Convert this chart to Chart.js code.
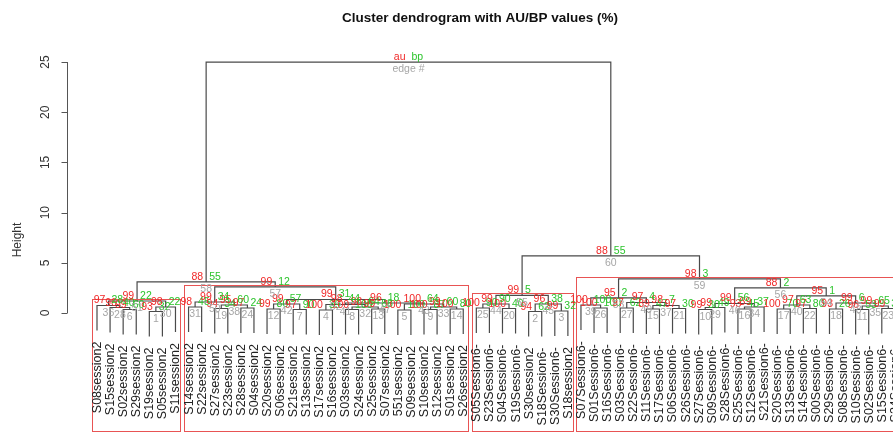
<!DOCTYPE html>
<html>
<head>
<meta charset="utf-8">
<script src="https://cdn.jsdelivr.net/npm/chart.js@4.4.1/dist/chart.umd.min.js"></script>
<style>
  html, body { margin: 0; padding: 0; background: #fff; }
  #wrap { width: 893px; height: 433px; }
</style>
</head>
<body>
<div id="wrap"><canvas id="dendro"></canvas></div>
<script>
// leaves, left to right as they appear
const leafLabels = [
  "S08session2", "S15session2", "S02session2", "S29session2", "S19session2", "S05session2", "S11session2",
  "S14session2", "S22session2", "S27session2", "S23session2", "S28session2", "S04session2", "S20session2",
  "S06session2", "S21session2", "S13session2", "S17session2", "S16session2", "S03session2", "S24session2",
  "S25session2", "S07session2", "551session2", "S09session2", "S10session2", "S12session2", "S01session2",
  "S26session2",
  "S05Session6-", "S23Session6-", "S04Session6-", "S19Session6-", "S30session2", "S18Session6-",
  "S30Session6-", "S18session2",
  "S07Session6-", "S01Session6-", "S16Session6-", "S03Session6-", "S22Session6-", "S11Session6-",
  "S17Session6-", "S06Session6-", "S26Session6-", "S27Session6-", "S09Session6-", "S28Session6-",
  "S25Session6-", "S12Session6-", "S21Session6-", "S20Session6-", "S13Session6-", "S14Session6-",
  "S00Session6-", "S29Session6-", "S08Session6-", "S10Session6-", "S02Session6-", "S15Session6-",
  "S24Session6-"
];

// merges, hclust style: negative = leaf number, positive = earlier merge (1-based)
const mergeLeft  = [-3, -2, -1, -5, 4, 3, -8, -10, -12, 8, 7, -14, -16, 12, -18, -20, -22, 16, 15, -24,
                    -26, -28, 21, 20, 19, 14, 11, 6, -30, -32, 29, -34, -36, 32, 31, -39, -38, -41, -43, -45,
                    39, 38, 37, -47, 44, -50, 46, 45, -53, -55, 49, -57, -59, -61, 53, 52, 51, 48, 43, 35, 28];
const mergeRight = [-4, 1, 2, -6, -7, 5, -9, -11, -13, 9, 10, -15, -17, 13, -19, -21, -23, 17, 18, -25,
                    -27, -29, 22, 23, 24, 25, 26, 27, -31, -33, 30, -35, -37, 33, 34, -40, 36, -42, -44, -46,
                    40, 41, 42, -48, -49, -51, -52, 47, -54, -56, 50, -58, -60, -62, 54, 55, 56, 57, 58, 59, 60];
const mergeHeight = [0.35, 0.55, 0.75, 0.15, 0.6, 1.2, 0.6, 0.45, 0.5, 0.8, 1.1, 0.4, 0.35, 0.9, 0.3, 0.35,
                     0.4, 0.6, 0.85, 0.3, 0.35, 0.4, 0.6, 0.9, 1.0, 1.35, 2.6, 3.1, 0.5, 0.45, 0.9, 0.15,
                     0.2, 0.9, 1.75, 0.5, 0.8, 0.5, 0.4, 0.45, 0.75, 1.05, 1.5, 0.35, 0.55, 0.4, 0.6, 0.95,
                     0.4, 0.45, 0.8, 0.4, 0.35, 0.45, 0.7, 1.0, 1.7, 2.5, 3.4, 5.7, 25.0];
const auValues = [99, 96, 97, 93, 98, 99, 98, 94, 97, 95, 99, 99, 97, 99, 100, 100, 99, 98, 98, 100,
                  100, 100, 99, 100, 96, 99, 99, 88, 100, 100, 99, 94, 99, 96, 99, 100, 100, 97, 89, 97,
                  98, 97, 95, 99, 99, 93, 89, 99, 100, 97, 97, 93, 96, 99, 99, 99, 95, 88, 98, 88, 100];
const bpValues = [60, 40, 28, 32, 22, 22, 45, 34, 24, 60, 34, 80, 90, 57, 39, 100, 88, 64, 44, 100,
                  87, 80, 60, 64, 18, 31, 12, 55, 90, 40, 90, 62, 32, 38, 5, 100, 100, 62, 47, 30,
                  7, 4, 2, 30, 49, 45, 37, 56, 70, 80, 63, 26, 53, 35, 65, 6, 1, 2, 3, 55, 100];

const yTicks = [0, 5, 10, 15, 20, 25];

const hang = 2.5;        // leaves hang 0.1 * top height below their merge
const auLimit = 95;      // pvrect alpha
const xMin = -6.416, xMax = 61.856;
const yMin = -11.95, yMax = 31.18;

// node positions as plot.hclust does it
const nodeX = [];
const leafBottom = [];
const members = [];
for (let i = 0; i < mergeHeight.length; i++) {
  const h = mergeHeight[i];
  const side = c => {
    if (c < 0) {
      leafBottom[-c - 1] = h - hang;
      return { x: -c, y: h - hang, m: [-c] };
    }
    return { x: nodeX[c - 1], y: mergeHeight[c - 1], m: members[c - 1] };
  };
  const l = side(mergeLeft[i]);
  const r = side(mergeRight[i]);
  nodeX[i] = (l.x + r.x) / 2;
  members[i] = l.m.concat(r.m);
}

// edge numbers follow merge height
const order = mergeHeight.map((h, i) => i).sort((a, b) => mergeHeight[a] - mergeHeight[b]);
const edgeNo = [];
order.forEach((idx, k) => { edgeNo[idx] = k + 1; });

// pvrect, max.only
const boxes = [];
const taken = new Set();
for (let k = order.length - 2; k >= 0; k--) {
  const i = order[k];
  if (auValues[i] < auLimit) continue;
  const m = members[i];
  if (m.some(v => taken.has(v))) { m.forEach(v => taken.add(v)); continue; }
  boxes.push({ from: Math.min(...m), to: Math.max(...m), top: mergeHeight[i] });
  m.forEach(v => taken.add(v));
}

const datasets = mergeHeight.map((h, i) => {
  const pt = c => c < 0 ? { x: -c, y: leafBottom[-c - 1] } : { x: nodeX[c - 1], y: mergeHeight[c - 1] };
  const l = pt(mergeLeft[i]);
  const r = pt(mergeRight[i]);
  return {
    data: [l, { x: l.x, y: h }, { x: r.x, y: h }, r],
    showLine: true,
    borderColor: '#4a4a4a',
    borderWidth: 1.2,
    pointRadius: 0,
    fill: false
  };
});

const dendroText = {
  id: 'dendroText',
  afterDatasetsDraw(chart) {
    const { ctx, scales: { x, y } } = chart;
    const last = mergeHeight.length - 1;
    ctx.save();

    // red cluster boxes
    const mx = (xMax - xMin) / leafLabels.length / 3;
    const my = (yMax - yMin) / 200;
    ctx.strokeStyle = '#e85454';
    ctx.lineWidth = 1;
    boxes.forEach(b => {
      const l = Math.round(x.getPixelForValue(b.from - mx)) + 0.5;
      const r = Math.round(x.getPixelForValue(b.to + mx)) + 0.5;
      const t = Math.round(y.getPixelForValue(b.top + my)) + 0.5;
      const bt = Math.round(y.getPixelForValue(yMin + my)) + 0.5;
      ctx.strokeRect(l, t, r - l, bt - t);
    });

    // au / bp / edge numbers
    ctx.font = '10.5px "Liberation Sans", Arial, sans-serif';
    mergeHeight.forEach((h, i) => {
      const px = x.getPixelForValue(nodeX[i]);
      const py = y.getPixelForValue(h);
      ctx.textBaseline = 'alphabetic';
      ctx.textAlign = 'right';
      ctx.fillStyle = '#f02828';
      ctx.fillText(i === last ? 'au' : String(auValues[i]), px - 3, py - 2);
      ctx.textAlign = 'left';
      ctx.fillStyle = '#2cc42c';
      ctx.fillText(i === last ? 'bp' : String(bpValues[i]), px + 3, py - 2);
      ctx.textAlign = 'center';
      ctx.textBaseline = 'top';
      ctx.fillStyle = '#a6a6a6';
      ctx.fillText(i === last ? 'edge #' : String(edgeNo[i]), px, py + 2);
    });

    // leaf labels
    ctx.font = '12.5px "Liberation Sans", Arial, sans-serif';
    ctx.fillStyle = '#222';
    ctx.textAlign = 'right';
    ctx.textBaseline = 'middle';
    leafLabels.forEach((lab, i) => {
      const px = x.getPixelForValue(i + 1);
      const py = y.getPixelForValue(leafBottom[i]);
      ctx.save();
      ctx.translate(px + 0.5, py + 11);
      ctx.rotate(-Math.PI / 2);
      ctx.fillText(lab, 0, 0);
      ctx.restore();
    });

    // y axis, R style
    const ax = 67.5;
    ctx.strokeStyle = '#555';
    ctx.beginPath();
    ctx.moveTo(ax, y.getPixelForValue(yTicks[0]));
    ctx.lineTo(ax, y.getPixelForValue(yTicks[yTicks.length - 1]));
    yTicks.forEach(t => {
      const ty = Math.round(y.getPixelForValue(t)) + 0.5;
      ctx.moveTo(ax, ty);
      ctx.lineTo(ax - 6, ty);
    });
    ctx.stroke();
    ctx.font = '12px "Liberation Sans", Arial, sans-serif';
    ctx.fillStyle = '#333';
    ctx.textAlign = 'center';
    ctx.textBaseline = 'middle';
    yTicks.forEach(t => {
      ctx.save();
      ctx.translate(46, y.getPixelForValue(t));
      ctx.rotate(-Math.PI / 2);
      ctx.fillText(String(t), 0, 0);
      ctx.restore();
    });
    ctx.save();
    ctx.translate(18, 240);
    ctx.rotate(-Math.PI / 2);
    ctx.fillText('Height', 0, 0);
    ctx.restore();

    // title
    ctx.font = 'bold 13.5px "Liberation Sans", Arial, sans-serif';
    ctx.fillStyle = '#111';
    ctx.fillText('Cluster dendrogram with AU/BP values (%)', 480, 18);

    ctx.restore();
  }
};

new Chart(document.getElementById('dendro'), {
  type: 'scatter',
  data: { datasets },
  options: {
    responsive: true,
    maintainAspectRatio: false,
    animation: false,
    layout: { padding: 0 },
    plugins: {
      legend: { display: false },
      tooltip: { enabled: false },
      title: { display: false }
    },
    scales: {
      x: { type: 'linear', min: xMin, max: xMax, display: false },
      y: { type: 'linear', min: yMin, max: yMax, display: false }
    },
    elements: { line: { tension: 0 } }
  },
  plugins: [dendroText]
});
</script>
</body>
</html>
